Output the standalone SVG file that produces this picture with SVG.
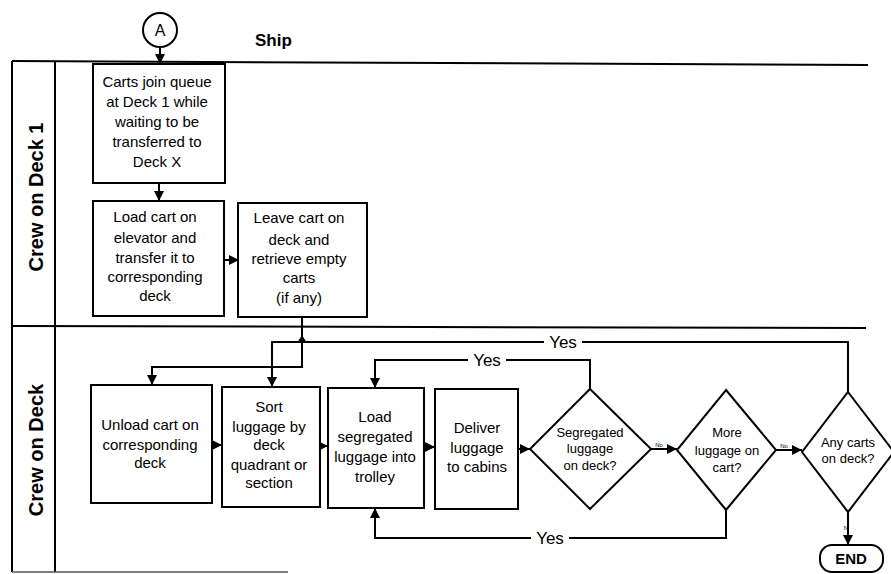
<svg xmlns="http://www.w3.org/2000/svg" width="891" height="574" viewBox="0 0 891 574">
<defs>
<style>
.t{font-family:"Liberation Sans",Arial,sans-serif;font-size:15px;fill:#000;text-anchor:middle}
.s{font-size:13px}
.b{font-weight:bold}
.box{fill:#fff;stroke:#000;stroke-width:2}
.ln{fill:none;stroke:#000;stroke-width:2}
.lane{fill:none;stroke:#000;stroke-width:2}
.yes{font-family:"Liberation Sans",Arial,sans-serif;font-size:17px;text-anchor:middle}
.no{font-family:"Liberation Sans",Arial,sans-serif;font-size:6px;text-anchor:middle}
</style>
<marker id="ah" viewBox="0 0 10 10" refX="10" refY="5" markerWidth="10" markerHeight="10" markerUnits="userSpaceOnUse" orient="auto">
<path d="M0,0 L10,5 L0,10 Z" fill="#000"/>
</marker>
</defs>
<rect width="891" height="574" fill="#fff"/>

<g id="lanes">
<line class="lane" x1="12" y1="61" x2="868" y2="65"/>
<line class="lane" x1="12" y1="61" x2="12" y2="572"/>
<line class="lane" x1="55" y1="61" x2="55" y2="572"/>
<line class="lane" x1="12" y1="326" x2="866" y2="328"/>
<line x1="12" y1="572" x2="288" y2="572" stroke="#555" stroke-width="1.5"/>
<text class="t b" style="font-size:20px" transform="translate(43,197) rotate(-90)">Crew on Deck 1</text>
<text class="t b" style="font-size:20px" transform="translate(43,450) rotate(-90)">Crew on Deck</text>
<text x="255" y="46" class="t b" style="font-size:17px;text-anchor:start">Ship</text>
</g>

<g id="connectors">
<line class="ln" x1="160" y1="48" x2="160" y2="64" marker-end="url(#ah)"/>
<line class="ln" x1="159" y1="183" x2="159" y2="201" marker-end="url(#ah)"/>
<line class="ln" x1="224" y1="260" x2="239" y2="260" marker-end="url(#ah)"/>
<path class="ln" d="M302,317 V367 H152 V385" marker-end="url(#ah)"/>
<path class="ln" d="M848,392 V342 H272 V387" marker-end="url(#ah)"/>
<path d="M297,343 L302,335 L307,343 Z" fill="#000"/>
<line class="ln" x1="212" y1="445" x2="222" y2="445" marker-end="url(#ah)"/>
<line class="ln" x1="320" y1="446" x2="328" y2="446" marker-end="url(#ah)"/>
<line class="ln" x1="424" y1="447" x2="435" y2="447" marker-end="url(#ah)"/>
<line class="ln" x1="518" y1="449" x2="530" y2="449" marker-end="url(#ah)"/>
<line class="ln" x1="651" y1="449" x2="677" y2="449" marker-end="url(#ah)"/>
<line class="ln" x1="776" y1="450" x2="802" y2="450" marker-end="url(#ah)"/>
<line class="ln" x1="848" y1="512" x2="848" y2="545" marker-end="url(#ah)"/>
<path class="ln" d="M590,389 V360 H375 V388" marker-end="url(#ah)"/>
<path class="ln" d="M726,510 V538 H375 V508" marker-end="url(#ah)"/>
<rect x="544" y="333" width="38" height="18" fill="#fff"/>
<text x="563" y="348" class="yes">Yes</text>
<rect x="468" y="351" width="38" height="18" fill="#fff"/>
<text x="487" y="366" class="yes">Yes</text>
<rect x="531" y="529" width="38" height="18" fill="#fff"/>
<text x="550" y="544" class="yes">Yes</text>
<text x="659" y="447" class="no">No</text>
<text x="784" y="448" class="no">No</text>
<text x="846" y="530" class="no">N</text>
</g>

<g id="connA">
<circle cx="160" cy="30" r="17" fill="#fff" stroke="#000" stroke-width="2"/>
<text x="160" y="36" class="t" style="font-size:16px">A</text>
</g>

<g id="box1">
<rect class="box" x="93" y="64" width="132" height="119"/>
<text class="t"><tspan x="157" y="87">Carts join queue</tspan><tspan x="157" y="107">at Deck 1 while</tspan><tspan x="157" y="127">waiting to be</tspan><tspan x="157" y="147">transferred to</tspan><tspan x="157" y="167">Deck X</tspan></text>
</g>

<g id="box2">
<rect class="box" x="93" y="201" width="131" height="115"/>
<text class="t"><tspan x="155" y="222">Load cart on</tspan><tspan x="155" y="243">elevator and</tspan><tspan x="155" y="263">transfer it to</tspan><tspan x="155" y="282">corresponding</tspan><tspan x="155" y="301">deck</tspan></text>
</g>

<g id="box3">
<rect class="box" x="238" y="203" width="129" height="114"/>
<text class="t"><tspan x="299" y="223">Leave cart on</tspan><tspan x="299" y="245">deck and</tspan><tspan x="299" y="264">retrieve empty</tspan><tspan x="299" y="283">carts</tspan><tspan x="299" y="303">(if any)</tspan></text>
</g>

<g id="box4">
<rect class="box" x="91" y="385" width="121" height="118"/>
<text class="t"><tspan x="150" y="430">Unload cart on</tspan><tspan x="150" y="450">corresponding</tspan><tspan x="150" y="468">deck</tspan></text>
</g>

<g id="box5">
<rect class="box" x="222" y="387" width="98" height="120"/>
<text class="t"><tspan x="269" y="412">Sort</tspan><tspan x="269" y="432">luggage by</tspan><tspan x="269" y="450">deck</tspan><tspan x="269" y="470">quadrant or</tspan><tspan x="269" y="488">section</tspan></text>
</g>

<g id="box6">
<rect class="box" x="328" y="388" width="96" height="120"/>
<text class="t"><tspan x="375" y="422">Load</tspan><tspan x="375" y="442">segregated</tspan><tspan x="375" y="462">luggage into</tspan><tspan x="375" y="482">trolley</tspan></text>
</g>

<g id="box7">
<rect class="box" x="435" y="389" width="83" height="120"/>
<text class="t"><tspan x="477" y="433">Deliver</tspan><tspan x="477" y="453">luggage</tspan><tspan x="477" y="472">to cabins</tspan></text>
</g>

<g id="dec1">
<polygon class="box" points="590,389 651,449 590,509 530,449"/>
<text class="t s"><tspan x="590" y="437">Segregated</tspan><tspan x="590" y="453">luggage</tspan><tspan x="590" y="470">on deck?</tspan></text>
</g>

<g id="dec2">
<polygon class="box" points="726,390 776,450 726,510 677,450"/>
<text class="t s"><tspan x="727" y="437">More</tspan><tspan x="727" y="455">luggage on</tspan><tspan x="727" y="472">cart?</tspan></text>
</g>

<g id="dec3">
<polygon class="box" points="848,392 894,452 848,512 802,452"/>
<text class="t s"><tspan x="848" y="447">Any carts</tspan><tspan x="848" y="463">on deck?</tspan></text>
</g>

<g id="end">
<rect class="box" x="820" y="545" width="63" height="27" rx="12"/>
<text x="851" y="564" class="t b">END</text>
</g>
</svg>
